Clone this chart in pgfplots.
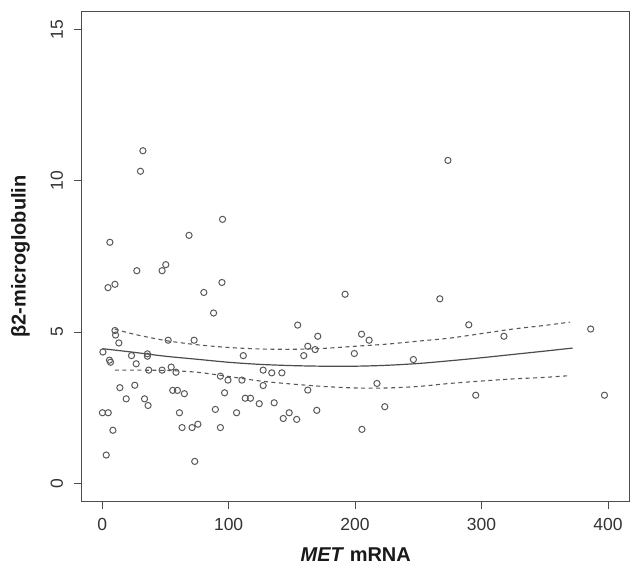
\documentclass[border=0pt]{standalone}
\usepackage{fontspec}
\setmainfont{Liberation Sans}
\usepackage{pgfplots}
\pgfplotsset{compat=1.18}
\begin{document}
\begin{tikzpicture}
\begin{axis}[
  scale only axis,
  width=548pt, height=490pt,
  xmin=-16, xmax=417, ymin=-0.6, ymax=15.6,
  xtick={0,100,200,300,400}, ytick={0,5,10,15},
  tick align=outside, tick pos=left, major tick length=7.7pt,
  axis line style={black!70, line width=1pt},
  every tick/.style={black!70, line width=1pt},
  /pgf/number format/assume math mode=true,
  ticklabel style={font=\fontsize{17.5}{20}\selectfont, text=black!80, inner sep=0pt},
  xticklabel style={anchor=north},
  xticklabel shift=9pt,
  yticklabel style={rotate=90, anchor=south},
  yticklabel shift=11pt,
  xlabel={\textbf{\textit{MET} mRNA}},
  ylabel={\textbf{β2-microglobulin}},
  label style={font=\fontsize{20}{24}\selectfont, text=black!90, inner sep=0pt},
  xlabel style={at={([yshift=-60pt]axis description cs:0.5,0)}, anchor=base},
  ylabel style={at={([xshift=-52pt]axis description cs:0,0.5)}, anchor=south, rotate=0},
  clip=false,
]
\addplot[only marks, mark=o, mark size=3.1pt, black!65, mark options={line width=1pt}] coordinates {
(32.2,11.0) (30.3,10.32) (95.2,8.73) (68.7,8.2) (6.1,7.97) (27.4,7.03) (50.3,7.23) (47.4,7.03)
(4.6,6.47) (10.1,6.58) (94.7,6.64) (80.4,6.31) (88.1,5.63) (10.1,5.05) (10.6,4.9) (13.2,4.64)
(52.2,4.73) (72.7,4.73) (0.6,4.34) (5.8,4.07) (6.6,4.0) (23.2,4.22) (35.8,4.28) (35.8,4.2)
(26.9,3.95) (111.6,4.22) (36.8,3.74) (47.4,3.74) (54.6,3.84) (58.4,3.67) (93.5,3.54) (99.5,3.41)
(110.5,3.41) (127.3,3.74) (127.3,3.23) (14,3.16) (25.8,3.24) (19,2.79) (33.5,2.79)
(36.3,2.57) (55.8,3.07) (59.5,3.07) (65,2.96) (96.8,2.99) (113.1,2.81) (117.3,2.81)
(124.2,2.63) (0.2,2.33) (4.8,2.33) (61.1,2.33) (89.5,2.44) (106.3,2.33) (8.5,1.75)
(63.2,1.84) (71.1,1.84) (75.7,1.95) (93.5,1.84) (3.2,0.93) (73.2,0.72)
(154.6,5.23) (170.5,4.86) (205.1,4.93) (211.1,4.73) (162.6,4.53) (168.4,4.42) (159.4,4.22)
(199.4,4.29) (246.1,4.09) (134.1,3.65) (142.1,3.65) (162.6,3.08) (217.3,3.3) (136,2.66)
(169.7,2.41) (223.5,2.53) (147.9,2.33) (143.2,2.14) (153.8,2.11) (205.4,1.78)
(192.1,6.25) (267,6.1) (273.4,10.68) (289.9,5.24) (386.3,5.1) (317.7,4.86) (295.4,2.91) (397.2,2.91)
};
\addplot[black!70, line width=1.2pt, smooth] coordinates {
(0.2,4.45) (25,4.33) (50,4.2) (75,4.1) (100,4.0) (125,3.93) (150,3.89) (175,3.87) (200,3.87)
(225,3.9) (250,3.96) (275,4.05) (300,4.15) (325,4.26) (350,4.37) (372,4.47)
};
\addplot[black!65, line width=1.1pt, dash pattern=on 4pt off 3.5pt, smooth] coordinates {
(10,5.1) (25,4.93) (50,4.72) (75,4.58) (100,4.49) (125,4.44) (150,4.43) (175,4.46) (200,4.53)
(225,4.6) (250,4.7) (275,4.8) (300,4.95) (325,5.1) (350,5.22) (370,5.33)
};
\addplot[black!65, line width=1.1pt, dash pattern=on 4pt off 3.5pt, smooth] coordinates {
(10,3.74) (50,3.73) (75,3.67) (100,3.53) (125,3.38) (150,3.28) (175,3.2) (200,3.15)
(225,3.15) (250,3.2) (275,3.3) (300,3.38) (325,3.45) (350,3.5) (370,3.56)
};
\path (rel axis cs:0,0) ++(-82pt,-66.3pt) coordinate (bbll);
\path (rel axis cs:1,1) ++(0pt,11.7pt) coordinate (bbur);
\end{axis}
\useasboundingbox (bbll) rectangle (bbur);
\end{tikzpicture}
\end{document}
